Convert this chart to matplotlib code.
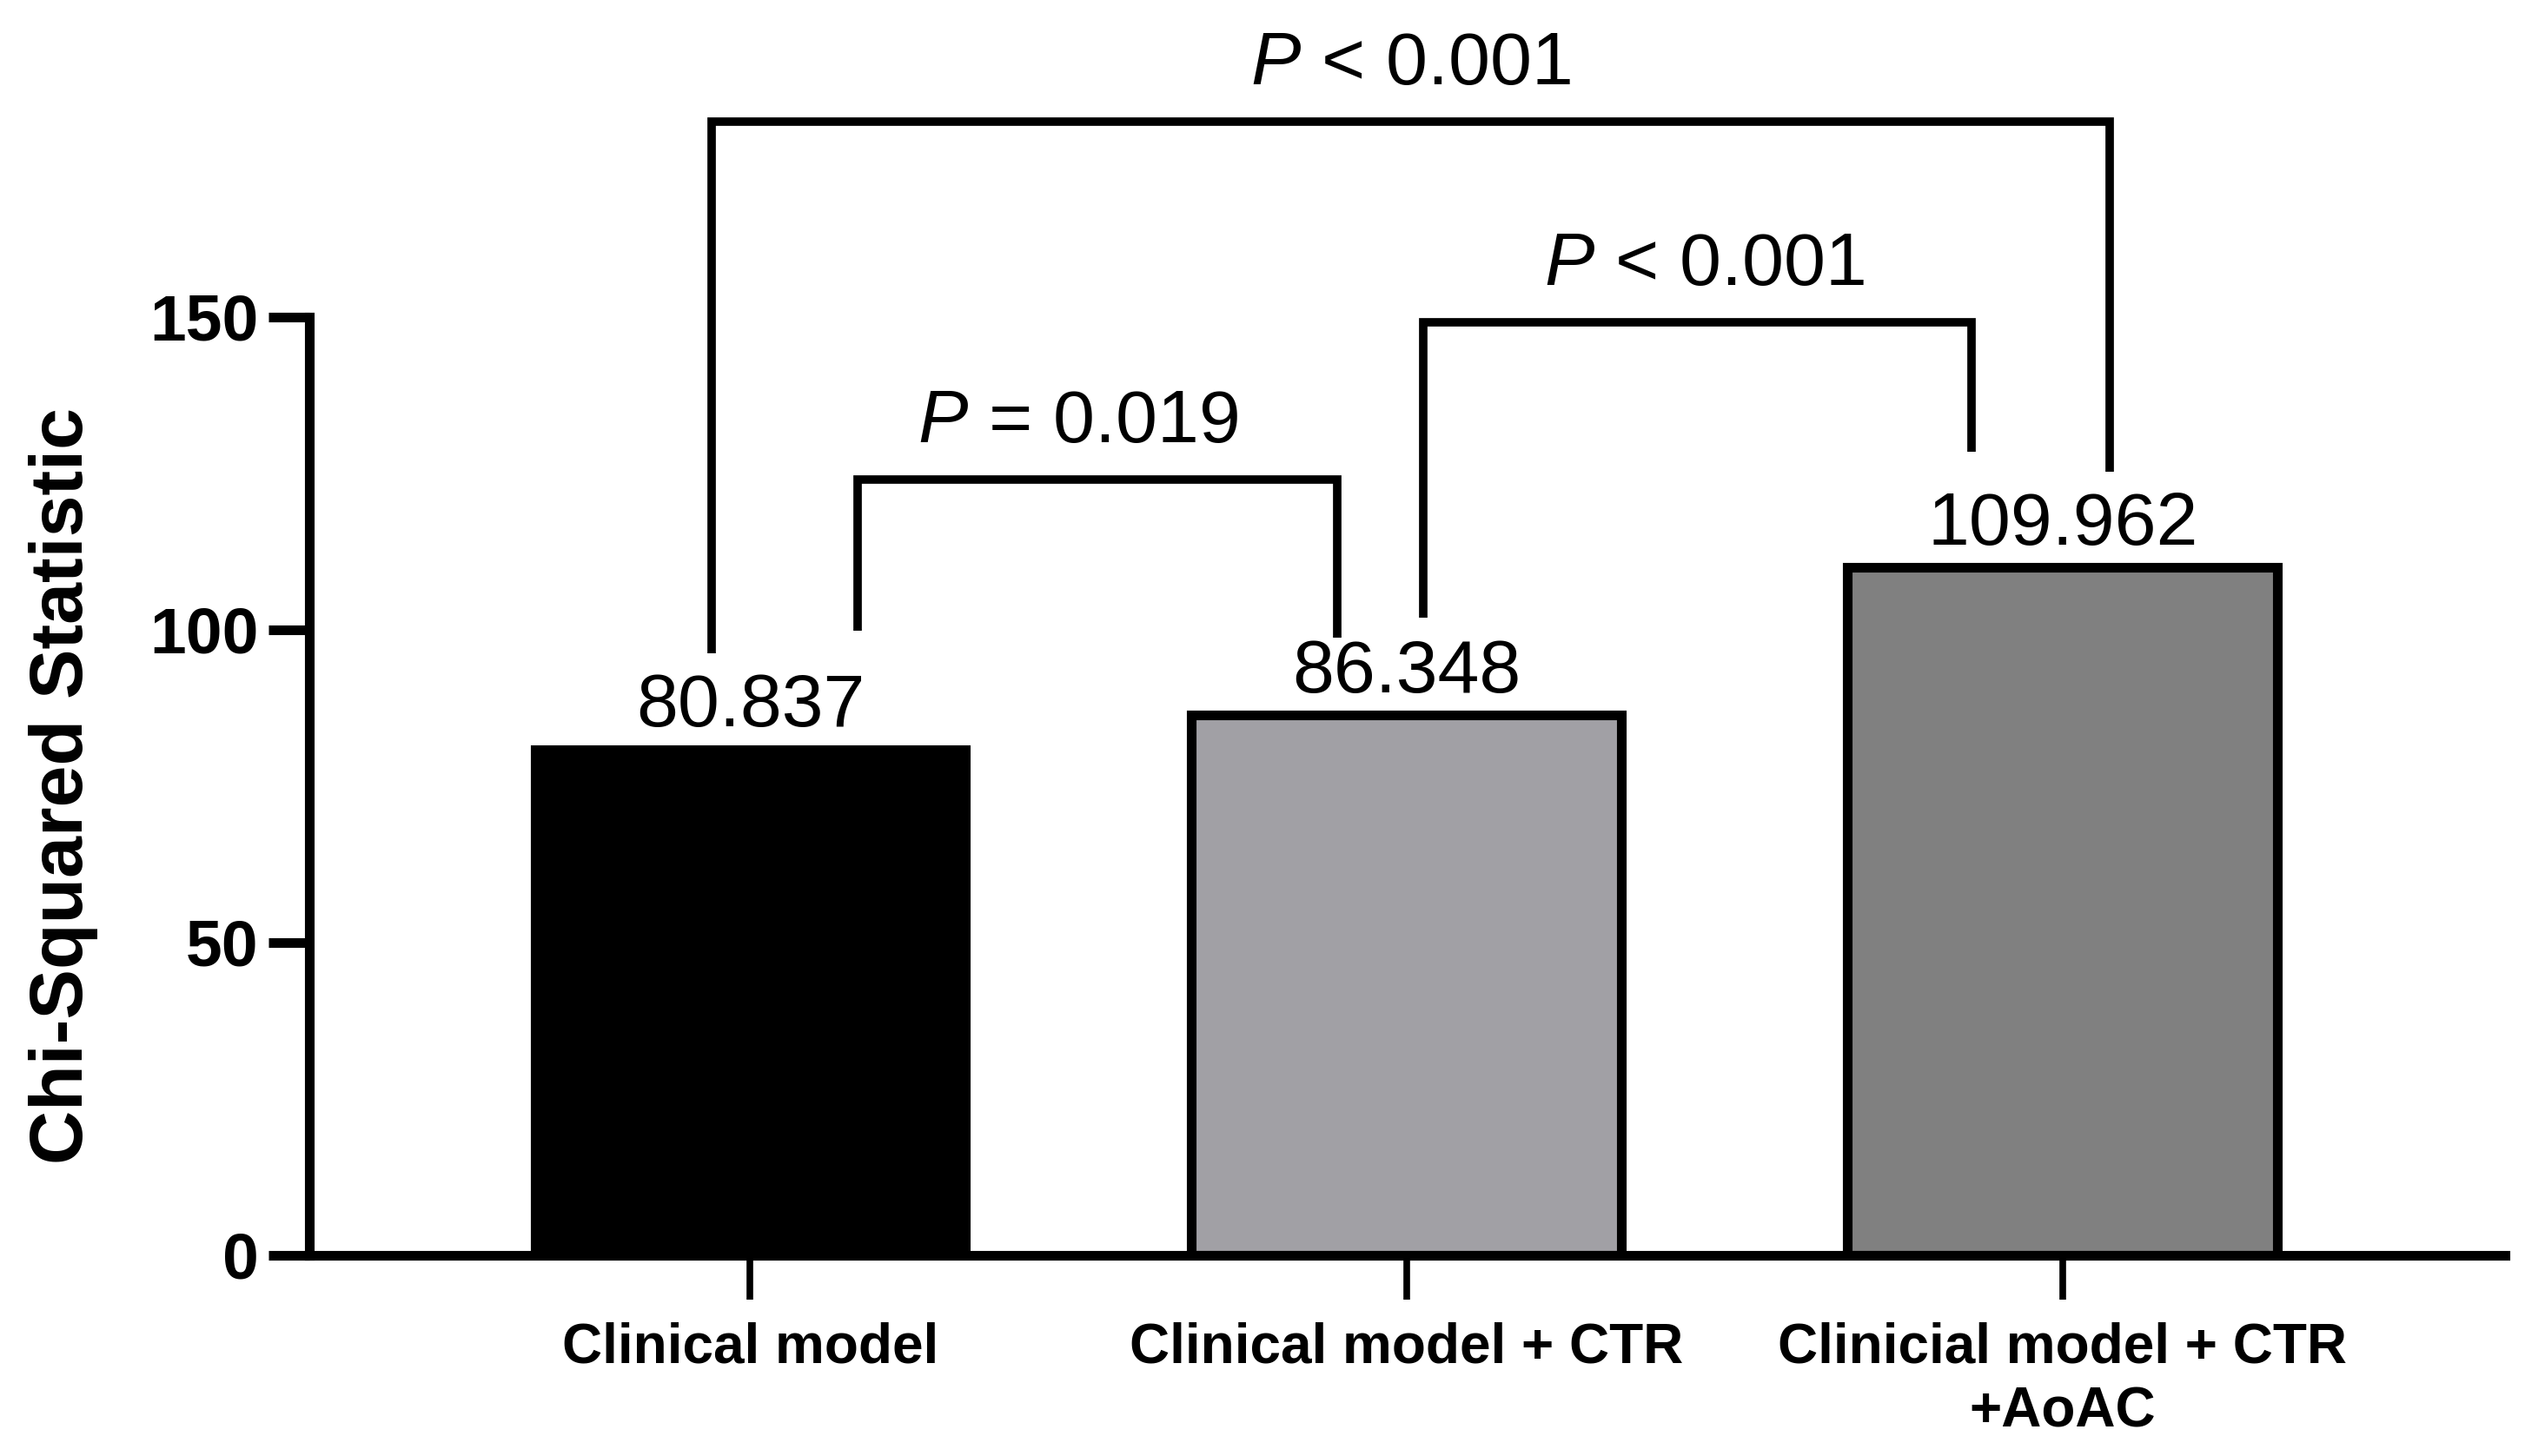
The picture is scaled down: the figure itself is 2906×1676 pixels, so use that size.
import matplotlib
matplotlib.use("Agg")
import matplotlib.pyplot as plt

plt.rcParams['font.family'] = ['Liberation Sans', 'DejaVu Sans']
plt.rcParams['mathtext.fontset'] = 'custom'
plt.rcParams['mathtext.rm'] = 'Liberation Sans'
plt.rcParams['mathtext.it'] = 'Liberation Sans:italic'

# data
categories = ['Clinical model', 'Clinical model + CTR', 'Clinicial model + CTR\n+AoAC']
chi_sq = [80.837, 86.348, 109.962]
bar_colors = ['#000000', '#a1a0a5', '#808080']
p_labels = [r'$\it{P}$ = 0.019', r'$\it{P}$ < 0.001', r'$\it{P}$ < 0.001']

# brackets: (x_left, x_right, y_left_end, y_right_end, y_top)
brackets = [
    (0.164, 0.895, 99.8, 98.8, 124.0),
    (1.026, 1.861, 101.9, 128.4, 149.2),
    (-0.059, 2.072, 96.2, 125.3, 181.2),
]
# small horizontal nudges of the P texts relative to bracket centres
p_shift = [-0.03, 0.01, 0.0]

fig = plt.figure(figsize=(29.06, 16.76), dpi=100)
ax = fig.add_axes([0.1225, 0.138, 0.8695, 0.862])

x = range(len(categories))
ax.bar(x, chi_sq, width=0.655, color=bar_colors, edgecolor='black', linewidth=8, zorder=2)

for xi, v in zip(x, chi_sq):
    ax.text(xi, v + 1.2, f'{v:.3f}', ha='center', va='bottom', fontsize=62)

for (xl, xr, yl, yr, yt), lab, dx in zip(brackets, p_labels, p_shift):
    ax.plot([xl, xl, xr, xr], [yl, yt, yt, yr], color='black', lw=7,
            solid_joinstyle='miter', solid_capstyle='butt', zorder=3)
    ax.text((xl + xr) / 2 + dx, yt + 3.5, lab, ha='center', va='bottom', fontsize=62)

ax.set_xlim(-0.672, 2.674)
ax.set_ylim(0, 200.7)
ax.set_yticks([0, 50, 100, 150])
ax.set_xticks(list(x))
ax.set_xticklabels(categories, fontsize=46, fontweight='bold', linespacing=1.3)
ax.tick_params(axis='y', labelsize=54, width=8, length=34, pad=8)
for t in ax.get_yticklabels():
    t.set_fontweight('bold')
ax.tick_params(axis='x', width=5.5, length=37, pad=18)

ax.spines['top'].set_visible(False)
ax.spines['right'].set_visible(False)
ax.spines['left'].set_linewidth(8)
ax.spines['bottom'].set_linewidth(8)
ax.spines['left'].set_bounds(0, 150)

ax.set_ylabel('Chi-Squared Statistic', fontsize=62, fontweight='bold')
ax.yaxis.set_label_coords(-0.096, 0.374)

fig.savefig('out.png', dpi=100)
